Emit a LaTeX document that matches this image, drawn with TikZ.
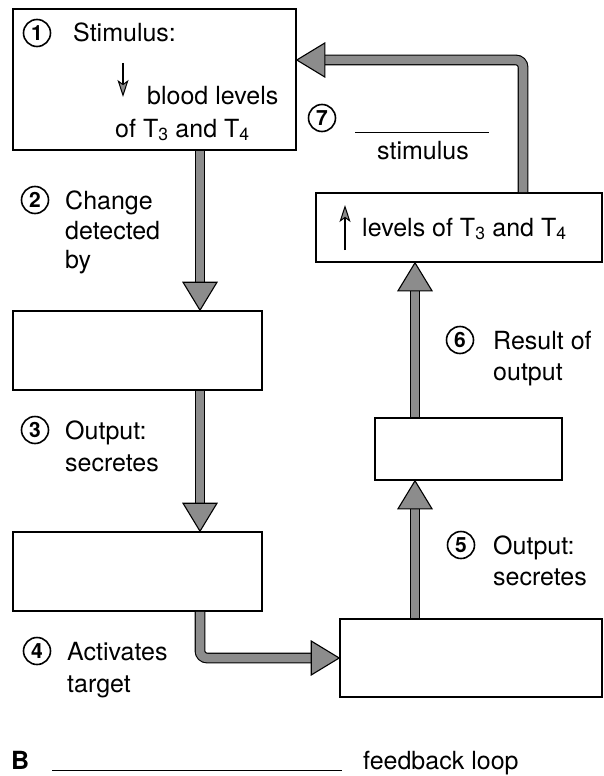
\documentclass[tikz,border=0pt]{standalone}
\usepackage{fontspec}
\setmainfont{TeX Gyre Heros}
\usetikzlibrary{arrows.meta,calc}
\definecolor{arrgray}{gray}{0.55}
\begin{document}
\begin{tikzpicture}[x=1pt,y=-1pt,
  box/.style={draw, line width=1.6pt, inner sep=0pt},
  num/.style={circle, draw, line width=1.6pt, inner sep=0pt, minimum size=27pt, font=\fontsize{21}{21}\selectfont\bfseries},
  lbl/.style={anchor=base west, inner sep=0pt, font=\fontsize{25}{30}\selectfont},
  shaft/.style={draw=black, line width=1.1pt, double=arrgray, double distance=8.5pt, rounded corners=7pt},
  head/.style={draw=black, fill=arrgray, line width=1.1pt, line join=miter},
  thinarrow/.style={line width=1.5pt, -{Stealth[length=17pt,width=11pt,inset=4pt,fill=arrgray,line width=1pt]}}]
\useasboundingbox (0,0) rectangle (604,776);

% boxes
\node[box, minimum width=283pt, minimum height=141pt] (b1) at (154.5,79.5) {};
\node[box, minimum width=249pt, minimum height=79pt] (b2) at (137.5,350.5) {};
\node[box, minimum width=249pt, minimum height=79pt] (b3) at (137.5,571.5) {};
\node[box, minimum width=262pt, minimum height=78pt] (b4) at (471,658) {};
\node[box, minimum width=187pt, minimum height=62pt] (b5) at (468.5,449) {};
\node[box, minimum width=286pt, minimum height=69pt] (b6) at (459,227.5) {};

% column coordinates
\coordinate (cL) at (200,0);
\coordinate (cR) at (415,0);
\coordinate (cR2) at (523,0);
\coordinate (c60) at (0,60);

% arrow 1: b1 -> b2
\coordinate (t1) at (b2.north -| cL);
\draw[shaft] (b1.south -| cL) -- ([yshift=27pt]t1);
\draw[head] (t1) -- ++(-17,-28) -- ++(34,0) -- cycle;
% arrow 2: b2 -> b3
\coordinate (t2) at (b3.north -| cL);
\draw[shaft] (b2.south -| cL) -- ([yshift=27pt]t2);
\draw[head] (t2) -- ++(-17,-28) -- ++(34,0) -- cycle;
% arrow 3: b3 -> b4
\coordinate (t3) at (b4.west);
\draw[shaft] (b3.south -| cL) |- ([xshift=-27pt]t3);
\draw[head] (t3) -- ++(-28,-17) -- ++(0,34) -- cycle;
% arrow 4: b4 -> b5
\coordinate (t4) at (b5.south -| cR);
\draw[shaft] (b4.north -| cR) -- ([yshift=-27pt]t4);
\draw[head] (t4) -- ++(-17,28) -- ++(34,0) -- cycle;
% arrow 5: b5 -> b6
\coordinate (t5) at (b6.south -| cR);
\draw[shaft] (b5.north -| cR) -- ([yshift=-27pt]t5);
\draw[head] (t5) -- ++(-17,28) -- ++(34,0) -- cycle;
% arrow 6: b6 -> b1
\coordinate (t6) at (b1.east |- c60);
\draw[shaft] (b6.north -| cR2) |- ([xshift=27pt]t6);
\draw[head] (t6) -- ++(28,-17) -- ++(0,34) -- cycle;

% box 1 text
\node[num] (n1) at (37,33) {1};
\node[lbl] (s1) at (73,42) {Stimulus:};
\coordinate (da1) at (123,63);
\coordinate (da2) at (123,97);
\draw[thinarrow] (da1) -- (da2);
\node[lbl] (s1b) at (147,104) {blood levels};
\node[lbl] (s1c) at (115,137) {of T\textsubscript{3} and T\textsubscript{4}};

% box 6 text
\coordinate (ua1) at (345,250);
\coordinate (ua2) at (345,205);
\draw[thinarrow] (ua1) -- (ua2);
\node[lbl] (s6) at (362,236) {levels of T\textsubscript{3} and T\textsubscript{4}};

% step labels
\node[num] (n2) at (35,200) {2};
\node[lbl] (l2a) at (65,209) {Change};
\node[lbl] (l2b) at (65,239) {detected};
\node[lbl] (l2c) at (65,268) {by};

\node[num] (n3) at (35,430) {3};
\node[lbl] (l3a) at (65,439) {Output:};
\node[lbl] (l3b) at (65,471) {secretes};

\node[num] (n4) at (37,651) {4};
\node[lbl] (l4a) at (67,660) {Activates};
\node[lbl] (l4b) at (67,692) {target};

\node[num] (n5) at (461,545) {5};
\node[lbl] (l5a) at (493,554) {Output:};
\node[lbl] (l5b) at (493,585) {secretes};

\node[num] (n6) at (460,340) {6};
\node[lbl] (l6a) at (493,349) {Result of};
\node[lbl] (l6b) at (493,380) {output};

\node[num] (n7) at (322,118) {7};
\coordinate (bl1) at (355,132);
\coordinate (bl2) at (489,132);
\draw[line width=1pt] (bl1) -- (bl2);
\node[lbl, anchor=base] (l7) at (423,159) {stimulus};

% bottom line
\node[lbl, font=\fontsize{25}{30}\selectfont\bfseries] (lB) at (11,769) {B};
\coordinate (fl1) at (52,770);
\coordinate (fl2) at (342,770);
\draw[line width=1pt] (fl1) -- (fl2);
\node[lbl] (lf) at (363,769) {feedback loop};
\end{tikzpicture}
\end{document}
